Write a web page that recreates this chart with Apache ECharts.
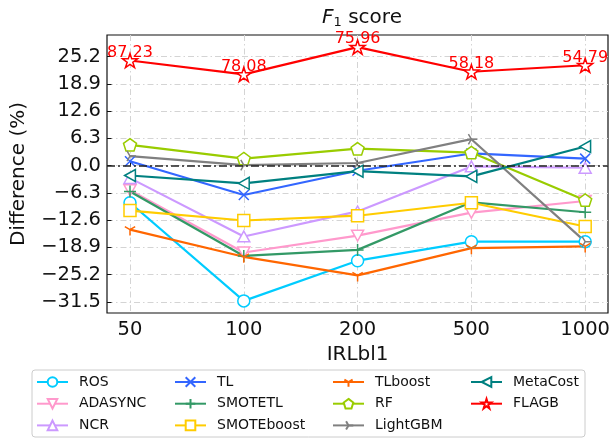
<!DOCTYPE html>
<html>
<head>
<meta charset="utf-8">
<script src="https://cdn.jsdelivr.net/npm/echarts@6/dist/echarts.min.js"></script>
<style>
  html, body { margin: 0; padding: 0; background: #fff; }
  #f1Chart { width: 613px; height: 439px; }
</style>
</head>
<body>
<div id="f1Chart"></div>
<script>
const categories = ["50", "100", "200", "500", "1000"];
const yTicks = [-31.5, -25.2, -18.9, -12.6, -6.3, 0.0, 6.3, 12.6, 18.9, 25.2];

const ros = [-8.6, -31.3, -22.0, -17.6, -17.6];
const adasync = [-5.7, -20.1, -16.2, -10.9, -8.2];
const ncr = [-2.9, -16.4, -10.6, -0.2, -0.5];
const tl = [1.0, -6.8, -1.2, 2.8, 1.6];
const smotetl = [-6.0, -20.9, -19.5, -8.5, -10.8];
const smoteboost = [-10.4, -12.7, -11.6, -8.6, -14.1];
const tlboost = [-14.8, -21.1, -25.4, -19.1, -18.7];
const rf = [4.8, 1.6, 3.9, 3.0, -8.0];
const lightgbm = [2.2, 0.1, 0.6, 6.1, -17.6];
const metacost = [-2.3, -4.1, -1.3, -2.5, 4.4];
const flagb = [24.3, 21.1, 27.4, 21.7, 23.2];
const flagbLabels = ["87.23", "78.08", "75.96", "58.18", "54.79"];

const FONT = "DejaVu Sans";

// marker shapes close to the matplotlib ones
const shapes = {
  circle: "circle",
  triDown: "path://M0,0 L10,0 L5,9 Z",
  triUp: "path://M5,0 L10,9 L0,9 Z",
  cross: "path://M0,0 L10,10 M10,0 L0,10",
  plus: "path://M5,0 L5,10 M0,5 L10,5",
  square: "path://M0,0 L10,0 L10,10 L0,10 Z",
  yDown: "path://M5,5 L5,10 M5,5 L0.7,2.5 M5,5 L9.3,2.5 M0,0 M10,10",
  pentagon: "path://M50,0 L97.6,34.5 L79.4,90.5 L20.6,90.5 L2.4,34.5 Z",
  yRight: "path://M5,5 L10,5 M5,5 L2.5,0.7 M5,5 L2.5,9.3 M0,0 M10,10",
  triLeft: "path://M0,5 L9,0 L9,10 Z",
  star: "path://M50,0 L61,35 L98,35 L68,57 L79,91 L50,70 L21,91 L32,57 L2,35 L39,35 Z"
};

const methods = [
  { name: "ROS", data: ros, color: "#00ccff", symbol: shapes.circle, size: 12 },
  { name: "ADASYNC", data: adasync, color: "#ff99cc", symbol: shapes.triDown, size: 12 },
  { name: "NCR", data: ncr, color: "#cc99ff", symbol: shapes.triUp, size: 12 },
  { name: "TL", data: tl, color: "#3366ff", symbol: shapes.cross, size: 10 },
  { name: "SMOTETL", data: smotetl, color: "#339966", symbol: shapes.plus, size: 12 },
  { name: "SMOTEboost", data: smoteboost, color: "#ffcc00", symbol: shapes.square, size: 12 },
  { name: "TLboost", data: tlboost, color: "#ff6600", symbol: shapes.yDown, size: 12 },
  { name: "RF", data: rf, color: "#99cc00", symbol: shapes.pentagon, size: 13 },
  { name: "LightGBM", data: lightgbm, color: "#808080", symbol: shapes.yRight, size: 12 },
  { name: "MetaCost", data: metacost, color: "#008080", symbol: shapes.triLeft, size: 12 },
  { name: "FLAGB", data: flagb, color: "#ff0000", symbol: shapes.star, size: 15 }
];

const seriesList = methods.map(function (m) {
  const s = {
    name: m.name,
    type: "line",
    xAxisIndex: 1,
    yAxisIndex: 1,
    data: m.data,
    color: m.color,
    symbol: m.symbol,
    symbolSize: m.size,
    symbolKeepAspect: true,
    showAllSymbol: true,
    lineStyle: { color: m.color, width: 2.2 },
    itemStyle: { color: "#fff", borderColor: m.color, borderWidth: 1.5 },
    z: 3
  };
  if (m.name === "FLAGB") {
    s.label = {
      show: true,
      position: "top",
      distance: 0,
      offset: [0, 8],
      color: "#ff0000",
      fontFamily: FONT,
      fontSize: 16,
      formatter: function (p) { return flagbLabels[p.dataIndex]; }
    };
  }
  return s;
});

// zero reference line across the whole frame
seriesList.push({
  type: "line",
  xAxisIndex: 0,
  yAxisIndex: 0,
  data: [],
  silent: true,
  z: 2,
  markLine: {
    silent: true,
    symbol: "none",
    label: { show: false },
    lineStyle: { color: "#222", type: [8, 3, 2, 3], width: 1.5 },
    data: [{ yAxis: 0 }]
  }
});

const legendCols = [
  { left: 36, names: ["ROS", "ADASYNC", "NCR"] },
  { left: 174, names: ["TL", "SMOTETL", "SMOTEboost"] },
  { left: 332, names: ["TLboost", "RF", "LightGBM"] },
  { left: 470, names: ["MetaCost", "FLAGB"] }
];

const legends = legendCols.map(function (c) {
  return {
    orient: "vertical",
    left: c.left,
    top: 375,
    padding: 0,
    itemWidth: 31,
    itemHeight: 12,
    itemGap: 7.7,
    data: c.names,
    textStyle: { fontFamily: FONT, fontSize: 14, color: "#111", padding: [0, 0, 0, 6] }
  };
});

const gridLine = { show: true, lineStyle: { color: "#d4d4d4", type: [6, 3, 1.5, 3], width: 1 } };
const fmt = function (v) { return v.toFixed(1).replace("-", "\u2212"); };

const chart = echarts.init(document.getElementById("f1Chart"));
chart.setOption({
  animation: false,
  backgroundColor: "#fff",
  title: {
    text: "{i|F}{s|1} score",
    left: 357,
    textAlign: "center",
    top: 2,
    textStyle: {
      fontFamily: FONT,
      fontSize: 20,
      fontWeight: "normal",
      color: "#111",
      rich: {
        i: { fontFamily: FONT, fontSize: 20, fontStyle: "italic", color: "#111" },
        s: { fontFamily: FONT, fontSize: 13, color: "#111", verticalAlign: "bottom", padding: [9, 0, 0, 0] }
      }
    }
  },
  legend: legends,
  graphic: [{
    type: "rect",
    shape: { x: 32, y: 370, width: 553, height: 67, r: 3 },
    style: { fill: "none", stroke: "#cccccc", lineWidth: 1 },
    silent: true
  }],
  grid: [
    { left: 107, right: 5, top: 35, bottom: 126, show: true, borderColor: "#111", borderWidth: 1.2, backgroundColor: "transparent" },
    { left: 130, right: 27, top: 35, bottom: 126 }
  ],
  xAxis: [
    { type: "value", gridIndex: 0, min: 0, max: 1, show: false },
    {
      type: "category",
      gridIndex: 1,
      data: categories,
      boundaryGap: false,
      name: "IRLbl1",
      nameLocation: "middle",
      nameGap: 29,
      nameTextStyle: { fontFamily: FONT, fontSize: 20, color: "#111" },
      axisLine: { show: false },
      axisTick: { show: true, inside: true, length: 5, lineStyle: { color: "#111" } },
      axisLabel: { fontFamily: FONT, fontSize: 19.5, color: "#111", margin: 7 },
      splitLine: gridLine
    }
  ],
  yAxis: [
    {
      type: "value",
      gridIndex: 0,
      min: -34.1,
      max: 30.2,
      name: "Difference (%)",
      nameLocation: "middle",
      nameGap: 78,
      nameTextStyle: { fontFamily: FONT, fontSize: 20, color: "#111" },
      axisLine: { show: false },
      axisTick: { show: true, inside: true, length: 4.5, customValues: yTicks, lineStyle: { color: "#111" } },
      axisLabel: { fontFamily: FONT, fontSize: 19.5, color: "#111", margin: 6, customValues: yTicks, formatter: fmt },
      splitLine: gridLine
    },
    { type: "value", gridIndex: 1, min: -34.1, max: 30.2, show: false, splitLine: { show: false } }
  ],
  series: seriesList
});
</script>
</body>
</html>
